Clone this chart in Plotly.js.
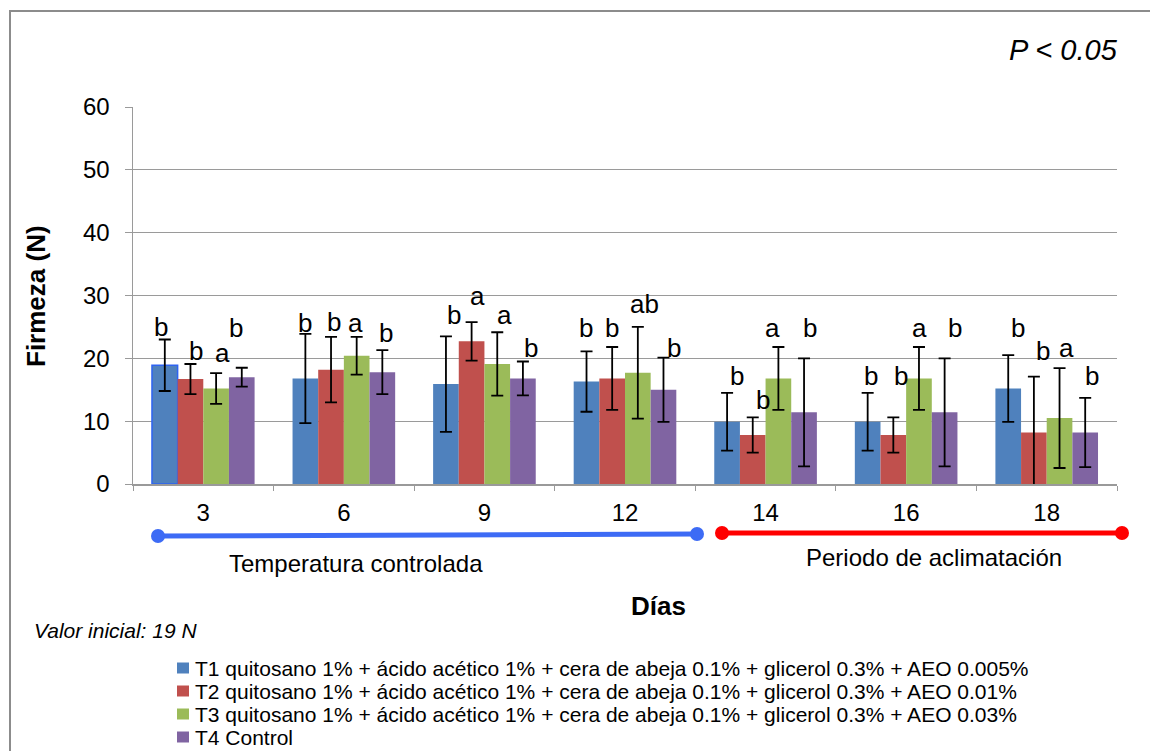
<!DOCTYPE html>
<html>
<head>
<meta charset="utf-8">
<script src="https://cdn.plot.ly/plotly-3.0.1.min.js"></script>
<style>
  html, body { margin: 0; padding: 0; background: #fff; }
  #chart { width: 1150px; height: 751px; }
</style>
</head>
<body>
<div id="chart"></div>
<script>
// ---------------- data ----------------
const days = ['3', '6', '9', '12', '14', '16', '18'];

const seriesNames = [
  'T1 quitosano 1% + ácido acético 1% + cera de abeja 0.1% + glicerol 0.3% + AEO 0.005%',
  'T2 quitosano 1% + ácido acético 1% + cera de abeja 0.1% + glicerol 0.3% + AEO 0.01%',
  'T3 quitosano 1% + ácido acético 1% + cera de abeja 0.1% + glicerol 0.3% + AEO 0.03%',
  'T4 Control'
];

const t1 = [18.9, 16.8, 15.9, 16.3, 9.9, 9.9, 15.2];
const t2 = [16.7, 18.2, 22.7, 16.8, 7.8, 7.8, 8.2];
const t3 = [15.2, 20.4, 19.1, 17.7, 16.8, 16.8, 10.5];
const t4 = [17.0, 17.8, 16.8, 15.0, 11.4, 11.4, 8.2];

const t1Err = [4.1, 7.1, 7.6, 4.8, 4.6, 4.6, 5.3];
const t2Err = [2.4, 5.2, 3.05, 5.0, 2.8, 2.8, 8.9];
const t3Err = [2.45, 3.0, 5.05, 7.3, 5.0, 5.0, 7.95];
const t4Err = [1.5, 3.5, 2.7, 5.1, 8.6, 8.6, 5.5];

// significance letters and the height (N) at which each is written
const t1Letters = ['b', 'b', 'b', 'b', 'b', 'b', 'b'];
const t2Letters = ['b', 'b', 'a', 'b', 'b', 'b', 'b'];
const t3Letters = ['a', 'a', 'a', 'ab', 'a', 'a', 'a'];
const t4Letters = ['b', 'b', 'b', 'b', 'b', 'b', 'b'];

const t1LetterY = [25.0, 25.7, 26.9, 24.9, 17.2, 17.2, 24.8];
const t2LetterY = [21.1, 25.8, 29.9, 24.9, 13.4, 17.2, 21.1];
const t3LetterY = [20.9, 25.7, 26.9, 28.7, 24.8, 24.8, 21.6];
const t4LetterY = [24.9, 24.0, 21.6, 21.6, 24.8, 24.8, 17.2];

const yTicks = [0, 10, 20, 30, 40, 50, 60];

// ---------------- styling / layout ----------------
const colors = ['#4F81BD', '#C0504D', '#9BBB59', '#8064A2'];
const FONT = 'Liberation Sans, Arial, Helvetica, sans-serif';
const W = 1150, H = 751;
const M = { l: 133, r: 33, t: 107, b: 267 };
const plotW = W - M.l - M.r, plotH = H - M.t - M.b;
const X = px => (px - M.l) / plotW;       // pixel -> paper x
const Y = py => (H - M.b - py) / plotH;   // pixel -> paper y

const values = [t1, t2, t3, t4];
const errs = [t1Err, t2Err, t3Err, t4Err];
const letters = [t1Letters, t2Letters, t3Letters, t4Letters];
const letterY = [t1LetterY, t2LetterY, t3LetterY, t4LetterY];
// small horizontal nudges (px) of the letters, as placed in the original
const letterShift = [
  [-4, 0, 8, -1, 10, 3, 10],
  [6, 3, 6, 0, 10, 8, 9],
  [6, -1, 7, 7, -6, 1, 7],
  [-6, 4, 8, 11, 6, 10, 7]
];

const bargap = 0.27;
const barW = (1 - bargap) / 4;

const traces = values.map((v, i) => ({
  type: 'bar',
  name: seriesNames[i],
  x: days,
  y: v,
  marker: {
    color: colors[i],
    line: i === 0
      ? { color: days.map((d, k) => k === 0 ? '#2E63F2' : colors[0]), width: days.map((d, k) => k === 0 ? 1.5 : 0) }
      : { width: 0 }
  },
  error_y: { type: 'data', array: errs[i], visible: true, color: '#000', thickness: 1.8, width: 6 },
  showlegend: false,
  hoverinfo: 'x+y'
}));

const annotations = [];
letters.forEach((arr, i) => {
  arr.forEach((txt, k) => {
    annotations.push({
      xref: 'x', yref: 'y',
      x: k + (i - 1.5) * barW,
      y: letterY[i][k],
      xshift: letterShift[i][k],
      text: txt, showarrow: false,
      xanchor: 'center', yanchor: 'middle',
      font: { family: FONT, size: 26, color: '#000' }
    });
  });
});

function paperText(text, px, py, size, opts) {
  return Object.assign({
    xref: 'paper', yref: 'paper', x: X(px), y: Y(py), text: text,
    showarrow: false, xanchor: 'center', yanchor: 'middle',
    font: { family: FONT, size: size, color: '#000' }
  }, opts || {});
}

annotations.push(paperText('<i>P < 0.05</i>', 1063, 50, 29));
annotations.push(paperText('<b>Firmeza (N)</b>', 36, 296, 26, { textangle: -90 }));
annotations.push(paperText('<b>Días</b>', 658, 606, 26));
annotations.push(paperText('Temperatura controlada', 356, 563, 24));
annotations.push(paperText('Periodo de aclimatación', 934, 557, 24));
annotations.push(paperText('<i>Valor inicial: 19 N</i>', 32, 630, 21, { xanchor: 'left' }));

// custom legend
const legendRows = [668, 691, 714, 737];
const shapes = [];
seriesNames.forEach((n, i) => {
  const cy = legendRows[i];
  shapes.push({
    type: 'rect', xref: 'paper', yref: 'paper',
    x0: X(177), x1: X(189), y0: Y(cy + 5.5), y1: Y(cy - 5.5),
    fillcolor: colors[i], line: { width: 0 }
  });
  annotations.push(paperText(n, 193, cy, 21, { xanchor: 'left' }));
});

// outer border
shapes.push({
  type: 'rect', xref: 'paper', yref: 'paper',
  x0: X(10), x1: X(1170), y0: Y(770), y1: Y(11),
  line: { color: '#8c8c8c', width: 2 }, fillcolor: 'rgba(0,0,0,0)'
});
// text box of the P value hides the end of the top gridline
shapes.push({
  type: 'rect', xref: 'paper', yref: 'paper', layer: 'above',
  x0: X(988), x1: X(1125), y0: Y(111), y1: Y(101),
  fillcolor: '#fff', line: { width: 0 }
});

// period brackets
function bracket(x0, y0, x1, y1, color) {
  shapes.push({
    type: 'line', xref: 'paper', yref: 'paper',
    x0: X(x0), y0: Y(y0), x1: X(x1), y1: Y(y1),
    line: { color: color, width: 5 }
  });
  [[x0, y0], [x1, y1]].forEach(([cx, cy]) => {
    const r = 7;
    shapes.push({
      type: 'circle', xref: 'paper', yref: 'paper',
      x0: X(cx - r), x1: X(cx + r), y0: Y(cy + r), y1: Y(cy - r),
      fillcolor: color, line: { width: 0 }
    });
  });
}
bracket(158, 536, 697, 534, '#3D6BF5');
bracket(722, 533, 1122, 533, '#FF0000');

const layout = {
  width: W, height: H,
  margin: M,
  paper_bgcolor: '#fff', plot_bgcolor: '#fff',
  font: { family: FONT, color: '#000' },
  barmode: 'group', bargap: bargap, bargroupgap: 0,
  showlegend: false,
  xaxis: {
    type: 'category',
    range: [-0.5, 6.5],
    showline: true, linecolor: '#9a9a9a', linewidth: 1.5,
    ticks: 'outside', tickson: 'boundaries', ticklen: 5, tickcolor: '#9a9a9a',
    ticklabelstandoff: 7,
    tickfont: { family: FONT, size: 24, color: '#000' },
    showgrid: false, zeroline: false, fixedrange: true
  },
  yaxis: {
    range: [0, 60],
    tickmode: 'array', tickvals: yTicks, ticktext: yTicks.map(String),
    showline: true, linecolor: '#9a9a9a', linewidth: 1.5,
    ticks: 'outside', ticklen: 7, tickcolor: '#9a9a9a',
    ticklabelstandoff: 10,
    tickfont: { family: FONT, size: 24, color: '#000' },
    showgrid: true, gridcolor: '#9a9a9a', gridwidth: 1.2,
    zeroline: false, fixedrange: true
  },
  annotations: annotations,
  shapes: shapes
};

Plotly.newPlot('chart', traces, layout, { displayModeBar: false, staticPlot: true });
</script>
</body>
</html>
